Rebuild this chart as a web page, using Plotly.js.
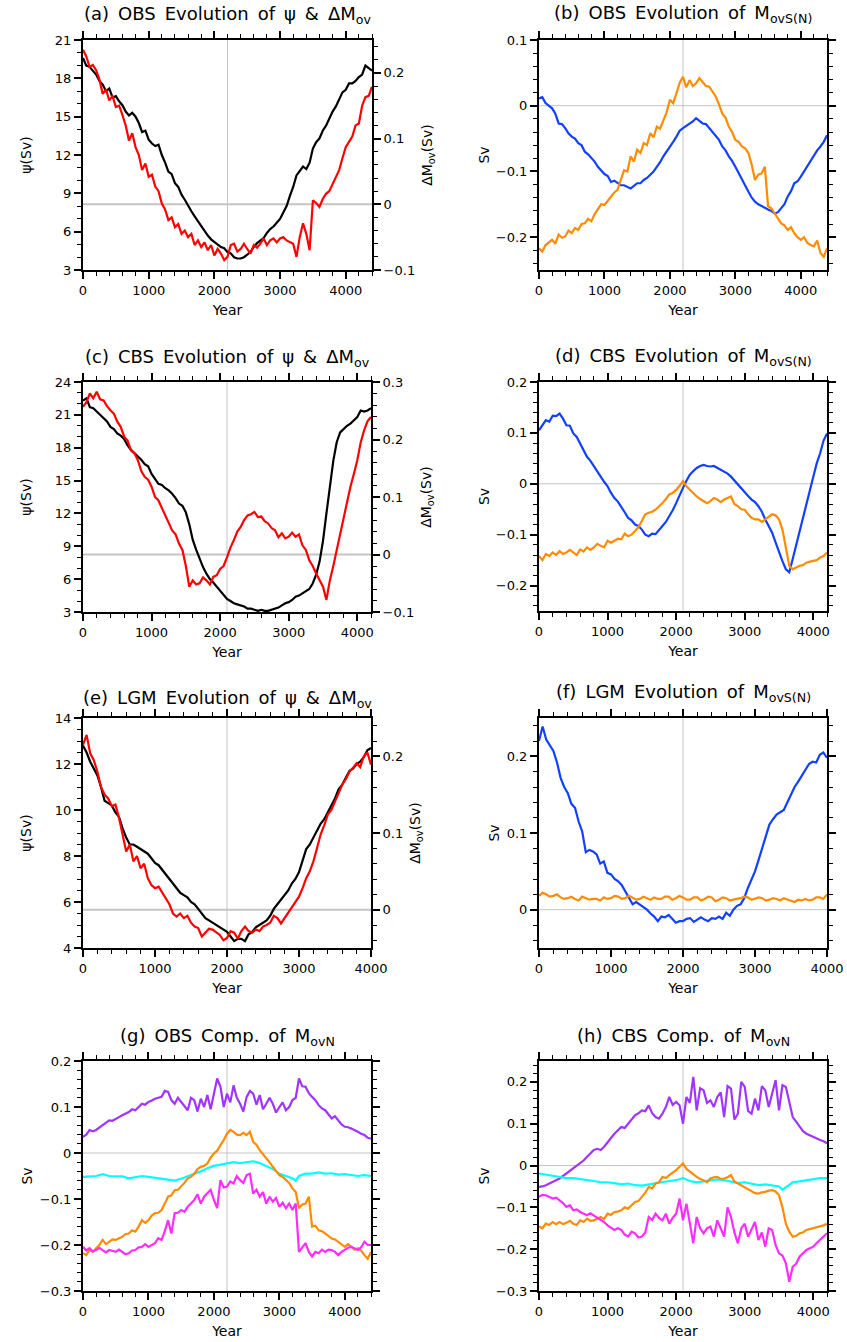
<!DOCTYPE html>
<html>
<head>
<meta charset="utf-8">
<script src="https://cdn.plot.ly/plotly-3.0.1.min.js"></script>
<style>html,body{margin:0;padding:0;background:#fff;}#chart{width:847px;height:1342px;}</style>
</head>
<body>
<div id="chart"></div>
<script>
// ---------- Year axes ----------
const years50_4400 = [0,50,100,150,200,250,300,350,400,450,500,550,600,650,700,750,800,850,900,950,1000,1050,1100,1150,1200,1250,1300,1350,1400,1450,1500,1550,1600,1650,1700,1750,1800,1850,1900,1950,2000,2050,2100,2150,2200,2250,2300,2350,2400,2450,2500,2550,2600,2650,2700,2750,2800,2850,2900,2950,3000,3050,3100,3150,3200,3250,3300,3350,3400,3450,3500,3550,3600,3650,3700,3750,3800,3850,3900,3950,4000,4050,4100,4150,4200,4250,4300,4350,4400];
const years50_4200 = [0,50,100,150,200,250,300,350,400,450,500,550,600,650,700,750,800,850,900,950,1000,1050,1100,1150,1200,1250,1300,1350,1400,1450,1500,1550,1600,1650,1700,1750,1800,1850,1900,1950,2000,2050,2100,2150,2200,2250,2300,2350,2400,2450,2500,2550,2600,2650,2700,2750,2800,2850,2900,2950,3000,3050,3100,3150,3200,3250,3300,3350,3400,3450,3500,3550,3600,3650,3700,3750,3800,3850,3900,3950,4000,4050,4100,4150,4200];
const years50_4000 = [0,50,100,150,200,250,300,350,400,450,500,550,600,650,700,750,800,850,900,950,1000,1050,1100,1150,1200,1250,1300,1350,1400,1450,1500,1550,1600,1650,1700,1750,1800,1850,1900,1950,2000,2050,2100,2150,2200,2250,2300,2350,2400,2450,2500,2550,2600,2650,2700,2750,2800,2850,2900,2950,3000,3050,3100,3150,3200,3250,3300,3350,3400,3450,3500,3550,3600,3650,3700,3750,3800,3850,3900,3950,4000];
const years100_4400 = [0,100,200,300,400,500,600,700,800,900,1000,1100,1200,1300,1400,1500,1600,1700,1800,1900,2000,2100,2200,2300,2400,2500,2600,2700,2800,2900,3000,3100,3200,3250,3300,3400,3500,3600,3700,3800,3900,4000,4100,4200,4300,4400];
const years100_4200 = [0,100,200,300,400,500,600,700,800,900,1000,1100,1200,1300,1400,1500,1600,1700,1800,1900,2000,2100,2200,2300,2400,2500,2600,2700,2800,2900,3000,3100,3200,3300,3400,3500,3550,3600,3700,3800,3900,4000,4100,4200];

// ---------- Panel (a) OBS ----------
const aPsi = [19.6,19.0,18.9,18.6,18.3,17.8,17.5,17.0,17.2,16.5,16.6,16.2,15.9,15.4,15.1,15.3,15.0,14.5,13.8,13.9,
              13.2,12.9,12.7,12.8,12.0,11.4,10.7,10.5,9.8,9.5,8.9,8.5,8.0,7.6,7.2,6.8,6.4,6.0,5.7,5.4,
              5.2,5.0,4.8,4.7,4.4,4.3,4.0,3.9,3.9,4.0,4.2,4.4,4.8,5.1,5.3,5.5,5.9,6.2,6.4,6.7,
              7.0,7.5,8.0,8.8,9.5,10.4,10.8,11.1,10.9,11.4,12.5,13.0,13.3,13.9,14.3,14.9,15.4,15.8,16.3,16.9,
              17.1,17.6,17.6,17.8,18.1,18.3,19.0,18.8,18.6];
const aDMov = [0.235,0.225,0.209,0.212,0.204,0.190,0.168,0.175,0.158,0.165,0.148,0.150,0.136,0.120,0.097,0.108,0.087,0.075,0.052,0.062,
               0.042,0.045,0.027,0.020,0.001,-0.008,-0.024,-0.020,-0.035,-0.030,-0.045,-0.040,-0.050,-0.045,-0.062,-0.055,-0.065,-0.058,-0.070,-0.062,
               -0.078,-0.068,-0.075,-0.085,-0.080,-0.062,-0.060,-0.072,-0.068,-0.060,-0.068,-0.075,-0.062,-0.066,-0.060,-0.052,-0.062,-0.055,-0.052,-0.058,
               -0.052,-0.050,-0.055,-0.058,-0.060,-0.080,-0.050,-0.029,-0.045,-0.070,0.006,0.002,-0.004,0.008,0.016,0.020,0.031,0.040,0.052,0.070,
               0.087,0.095,0.103,0.120,0.123,0.150,0.163,0.165,0.179];

// ---------- Panel (b) OBS ----------
const bMovS = [0.011,0.013,0.004,0.000,-0.004,-0.012,-0.027,-0.028,-0.034,-0.042,-0.047,-0.050,-0.057,-0.060,-0.070,-0.074,-0.080,-0.085,-0.093,-0.098,
               -0.104,-0.107,-0.116,-0.114,-0.118,-0.121,-0.121,-0.123,-0.126,-0.122,-0.118,-0.118,-0.113,-0.110,-0.105,-0.100,-0.093,-0.086,-0.077,-0.070,
               -0.062,-0.055,-0.047,-0.038,-0.034,-0.031,-0.027,-0.024,-0.019,-0.023,-0.027,-0.028,-0.034,-0.040,-0.047,-0.052,-0.062,-0.068,-0.077,-0.084,
               -0.093,-0.103,-0.113,-0.122,-0.131,-0.140,-0.146,-0.150,-0.153,-0.155,-0.158,-0.160,-0.164,-0.162,-0.156,-0.150,-0.138,-0.130,-0.118,-0.115,
               -0.108,-0.100,-0.093,-0.083,-0.077,-0.068,-0.062,-0.055,-0.045];
const bMovN = [-0.217,-0.222,-0.212,-0.208,-0.204,-0.210,-0.196,-0.201,-0.199,-0.190,-0.194,-0.186,-0.189,-0.180,-0.179,-0.172,-0.176,-0.165,-0.158,-0.150,
               -0.151,-0.145,-0.138,-0.132,-0.128,-0.112,-0.098,-0.100,-0.077,-0.085,-0.067,-0.072,-0.057,-0.060,-0.042,-0.048,-0.032,-0.035,-0.022,-0.010,
               0.009,0.004,0.019,0.035,0.044,0.028,0.039,0.030,0.034,0.042,0.036,0.030,0.029,0.022,0.014,0.002,-0.012,-0.018,-0.032,-0.040,
               -0.052,-0.055,-0.062,-0.065,-0.072,-0.090,-0.113,-0.105,-0.103,-0.093,-0.153,-0.156,-0.164,-0.170,-0.179,-0.182,-0.189,-0.185,-0.194,-0.200,
               -0.204,-0.200,-0.209,-0.212,-0.214,-0.205,-0.224,-0.230,-0.217];

// ---------- Panel (c) CBS ----------
const cPsi = [22.3,22.5,21.7,21.6,21.3,21.0,20.7,20.4,19.9,19.7,19.3,19.1,18.8,18.2,17.8,17.5,17.2,16.9,16.5,16.3,
              15.6,15.2,14.7,14.6,14.3,14.1,13.8,13.4,12.9,12.7,12.1,11.0,9.6,8.7,7.8,7.1,6.5,6.0,5.7,5.3,
              5.0,4.6,4.2,4.0,3.8,3.7,3.6,3.5,3.3,3.3,3.2,3.1,3.2,3.1,3.1,3.2,3.3,3.4,3.6,3.8,
              3.9,4.1,4.4,4.5,4.7,4.9,5.1,5.6,6.4,7.6,9.5,12.0,14.6,16.8,18.5,19.4,19.7,20.0,20.2,20.5,
              20.8,21.4,21.3,21.4,21.6];
const cDMov = [0.257,0.265,0.280,0.272,0.283,0.270,0.268,0.258,0.251,0.245,0.231,0.222,0.205,0.198,0.181,0.176,0.164,0.145,0.135,0.130,
               0.118,0.100,0.094,0.080,0.066,0.055,0.042,0.035,0.019,0.008,-0.020,-0.056,-0.045,-0.052,-0.050,-0.040,-0.045,-0.052,-0.039,-0.036,
               -0.025,-0.020,-0.005,0.012,0.025,0.040,0.048,0.060,0.068,0.070,0.074,0.065,0.066,0.058,0.054,0.046,0.042,0.030,0.037,0.028,
               0.031,0.038,0.031,0.035,0.016,0.008,-0.010,-0.020,-0.033,-0.045,-0.056,-0.079,-0.045,-0.020,0.008,0.030,0.060,0.090,0.118,0.140,
               0.164,0.195,0.216,0.232,0.239];

// ---------- Panel (d) CBS ----------
const dMovS = [0.105,0.115,0.125,0.122,0.134,0.133,0.138,0.128,0.115,0.114,0.099,0.092,0.079,0.066,0.053,0.045,0.034,0.024,0.014,0.004,
               -0.005,-0.018,-0.028,-0.035,-0.047,-0.056,-0.067,-0.072,-0.080,-0.083,-0.090,-0.100,-0.103,-0.098,-0.099,-0.092,-0.083,-0.075,-0.064,-0.052,
               -0.038,-0.022,-0.008,0.006,0.018,0.025,0.031,0.035,0.037,0.035,0.034,0.035,0.031,0.028,0.024,0.020,0.014,0.006,-0.002,-0.010,
               -0.018,-0.024,-0.031,-0.036,-0.044,-0.055,-0.070,-0.082,-0.096,-0.115,-0.135,-0.152,-0.168,-0.174,-0.148,-0.120,-0.092,-0.066,-0.041,-0.012,
               0.014,0.040,0.060,0.085,0.099];
const dMovN = [-0.142,-0.150,-0.138,-0.142,-0.135,-0.140,-0.132,-0.138,-0.135,-0.130,-0.135,-0.140,-0.129,-0.133,-0.125,-0.130,-0.125,-0.118,-0.122,-0.125,
               -0.112,-0.116,-0.112,-0.108,-0.109,-0.098,-0.103,-0.100,-0.093,-0.085,-0.073,-0.060,-0.057,-0.055,-0.051,-0.045,-0.038,-0.030,-0.021,-0.018,
               -0.012,-0.004,0.005,-0.005,-0.012,-0.020,-0.025,-0.030,-0.034,-0.038,-0.034,-0.028,-0.031,-0.036,-0.031,-0.028,-0.025,-0.040,-0.044,-0.050,
               -0.051,-0.060,-0.067,-0.070,-0.070,-0.075,-0.070,-0.066,-0.060,-0.062,-0.070,-0.090,-0.122,-0.161,-0.168,-0.165,-0.161,-0.160,-0.155,-0.153,
               -0.151,-0.150,-0.145,-0.142,-0.135];

// ---------- Panel (e) LGM ----------
const ePsi = [12.8,12.5,12.1,11.8,11.5,11.0,10.4,10.3,10.2,9.9,9.7,9.2,8.8,8.5,8.5,8.4,8.3,8.2,8.1,7.9,
              7.7,7.6,7.4,7.2,7.0,6.8,6.6,6.4,6.3,6.2,6.0,5.9,5.7,5.5,5.3,5.2,5.1,5.0,4.9,4.8,
              4.7,4.5,4.3,4.4,4.4,4.3,4.6,4.7,4.9,5.0,5.1,5.2,5.4,5.7,5.9,6.1,6.3,6.5,6.8,7.0,
              7.3,7.8,8.3,8.5,8.8,9.1,9.4,9.6,9.9,10.2,10.5,10.9,11.1,11.4,11.7,11.8,12.0,12.1,12.3,12.6,
              12.7];
const eDMov = [0.215,0.228,0.204,0.195,0.180,0.160,0.150,0.145,0.135,0.137,0.120,0.100,0.076,0.085,0.063,0.070,0.054,0.060,0.041,0.032,
               0.028,0.030,0.022,0.015,0.007,-0.005,-0.009,-0.005,-0.011,-0.008,-0.017,-0.022,-0.024,-0.035,-0.030,-0.025,-0.026,-0.030,-0.033,-0.040,
               -0.037,-0.028,-0.030,-0.038,-0.028,-0.022,-0.028,-0.030,-0.026,-0.028,-0.022,-0.020,-0.017,-0.008,-0.011,-0.018,-0.011,-0.005,0.002,0.010,
               0.017,0.028,0.041,0.050,0.063,0.080,0.098,0.110,0.124,0.130,0.141,0.152,0.163,0.170,0.180,0.185,0.191,0.186,0.200,0.205,
               0.189];

// ---------- Panel (f) LGM ----------
const fMovS = [0.220,0.239,0.222,0.215,0.207,0.192,0.172,0.160,0.152,0.138,0.133,0.115,0.102,0.075,0.078,0.076,0.072,0.060,0.063,0.048,
               0.046,0.040,0.037,0.032,0.024,0.015,0.007,0.010,0.007,0.004,0.000,-0.005,-0.009,-0.015,-0.009,-0.010,-0.007,-0.012,-0.017,-0.015,
               -0.015,-0.012,-0.011,-0.016,-0.013,-0.010,-0.013,-0.015,-0.011,-0.012,-0.009,-0.012,-0.004,-0.008,0.000,0.005,0.007,0.015,0.028,0.038,
               0.050,0.065,0.080,0.095,0.111,0.118,0.124,0.127,0.130,0.140,0.150,0.160,0.167,0.175,0.183,0.190,0.193,0.192,0.202,0.205,
               0.198];
const fMovN = [0.018,0.022,0.020,0.017,0.018,0.020,0.016,0.014,0.015,0.017,0.014,0.012,0.017,0.015,0.013,0.014,0.014,0.012,0.016,0.014,
               0.015,0.018,0.017,0.014,0.015,0.018,0.016,0.013,0.014,0.017,0.015,0.013,0.016,0.014,0.014,0.017,0.017,0.013,0.015,0.018,
               0.016,0.013,0.013,0.016,0.016,0.012,0.014,0.017,0.016,0.011,0.013,0.016,0.015,0.012,0.013,0.014,0.015,0.017,0.016,0.013,
               0.014,0.016,0.015,0.012,0.013,0.015,0.014,0.012,0.015,0.013,0.011,0.010,0.013,0.012,0.014,0.012,0.013,0.016,0.016,0.014,
               0.020];

// ---------- Panel (g) OBS components ----------
const gPurple = [0.035,0.040,0.050,0.047,0.050,0.055,0.060,0.066,0.071,0.070,0.075,0.078,0.082,0.085,0.089,0.095,0.093,0.100,0.107,0.105,
                 0.111,0.114,0.118,0.120,0.122,0.135,0.133,0.115,0.107,0.120,0.111,0.100,0.093,0.120,0.115,0.090,0.118,0.100,0.126,0.095,
                 0.129,0.162,0.144,0.100,0.129,0.110,0.147,0.120,0.107,0.090,0.122,0.135,0.129,0.105,0.126,0.095,0.107,0.120,0.107,0.088,
                 0.100,0.110,0.093,0.100,0.115,0.120,0.162,0.145,0.144,0.130,0.122,0.115,0.104,0.097,0.093,0.085,0.075,0.080,0.071,0.062,
                 0.057,0.056,0.053,0.050,0.046,0.042,0.039,0.033,0.031];
const gCyan = [-0.052,-0.051,-0.050,-0.046,-0.050,-0.051,-0.051,-0.055,-0.053,-0.050,-0.052,-0.054,-0.055,-0.058,-0.060,-0.056,-0.050,-0.045,-0.040,-0.033,-0.028,-0.025,-0.022,-0.020,-0.022,-0.020,-0.018,-0.022,-0.028,-0.035,-0.045,-0.050,-0.055,-0.060,-0.050,-0.045,-0.045,-0.042,-0.045,-0.044,-0.047,-0.046,-0.048,-0.050,-0.048,-0.050];
const gOrange = [-0.218,-0.222,-0.211,-0.215,-0.207,-0.200,-0.189,-0.198,-0.193,-0.188,-0.189,-0.185,-0.182,-0.176,-0.175,-0.168,-0.171,-0.160,-0.146,-0.152,
                 -0.146,-0.136,-0.131,-0.130,-0.124,-0.110,-0.095,-0.092,-0.081,-0.080,-0.073,-0.065,-0.055,-0.052,-0.045,-0.035,-0.030,-0.028,-0.023,-0.010,
                 -0.001,0.005,0.017,0.028,0.042,0.050,0.046,0.040,0.039,0.044,0.039,0.046,0.024,0.018,0.006,-0.002,-0.012,-0.020,-0.030,-0.040,
                 -0.048,-0.052,-0.059,-0.065,-0.077,-0.085,-0.120,-0.112,-0.110,-0.095,-0.160,-0.158,-0.168,-0.170,-0.175,-0.180,-0.186,-0.188,-0.193,-0.200,
                 -0.204,-0.198,-0.204,-0.210,-0.207,-0.212,-0.222,-0.230,-0.215];
const gMagenta = [-0.204,-0.212,-0.207,-0.214,-0.211,-0.206,-0.211,-0.216,-0.211,-0.213,-0.215,-0.210,-0.215,-0.220,-0.218,-0.212,-0.211,-0.205,-0.204,-0.198,
                  -0.204,-0.200,-0.196,-0.185,-0.189,-0.170,-0.146,-0.175,-0.131,-0.130,-0.124,-0.128,-0.117,-0.110,-0.102,-0.090,-0.110,-0.095,-0.088,-0.080,
                  -0.102,-0.120,-0.059,-0.075,-0.073,-0.062,-0.066,-0.050,-0.059,-0.065,-0.048,-0.045,-0.088,-0.080,-0.095,-0.085,-0.110,-0.095,-0.106,-0.098,
                  -0.117,-0.108,-0.120,-0.110,-0.124,-0.110,-0.215,-0.205,-0.196,-0.215,-0.225,-0.215,-0.218,-0.210,-0.215,-0.210,-0.211,-0.215,-0.222,-0.215,
                  -0.211,-0.206,-0.204,-0.208,-0.211,-0.205,-0.193,-0.200,-0.200];

// ---------- Panel (h) CBS components ----------
const hPurple = [-0.051,-0.050,-0.047,-0.043,-0.039,-0.036,-0.031,-0.025,-0.019,-0.012,-0.007,0.000,0.005,0.012,0.021,0.030,0.037,0.040,0.037,0.045,
                 0.057,0.066,0.076,0.083,0.092,0.090,0.100,0.110,0.120,0.125,0.132,0.130,0.144,0.125,0.116,0.112,0.124,0.140,0.164,0.145,
                 0.152,0.144,0.100,0.164,0.150,0.212,0.132,0.185,0.180,0.150,0.156,0.140,0.164,0.175,0.116,0.190,0.184,0.110,0.124,0.200,
                 0.188,0.130,0.124,0.160,0.132,0.190,0.180,0.140,0.172,0.204,0.132,0.192,0.188,0.150,0.116,0.105,0.092,0.082,0.076,0.072,
                 0.068,0.064,0.061,0.058,0.053];
const hCyan = [-0.019,-0.022,-0.025,-0.028,-0.030,-0.030,-0.032,-0.035,-0.037,-0.040,-0.040,-0.042,-0.045,-0.043,-0.047,-0.048,-0.045,-0.042,-0.040,-0.037,-0.035,-0.030,-0.037,-0.040,-0.038,-0.035,-0.033,-0.035,-0.038,-0.042,-0.040,-0.043,-0.047,-0.045,-0.048,-0.050,-0.058,-0.052,-0.040,-0.038,-0.035,-0.033,-0.030,-0.030];
const hOrange = [-0.146,-0.150,-0.139,-0.142,-0.135,-0.140,-0.135,-0.140,-0.137,-0.132,-0.139,-0.142,-0.131,-0.135,-0.127,-0.132,-0.131,-0.126,-0.123,-0.128,
                 -0.115,-0.118,-0.111,-0.110,-0.107,-0.100,-0.103,-0.095,-0.087,-0.085,-0.075,-0.065,-0.051,-0.055,-0.043,-0.040,-0.027,-0.030,-0.023,-0.018,
                 -0.011,-0.003,0.005,-0.008,-0.015,-0.022,-0.027,-0.032,-0.035,-0.040,-0.031,-0.028,-0.027,-0.032,-0.031,-0.028,-0.023,-0.038,-0.043,-0.048,
                 -0.051,-0.058,-0.063,-0.066,-0.067,-0.064,-0.063,-0.060,-0.059,-0.062,-0.071,-0.100,-0.139,-0.158,-0.170,-0.168,-0.162,-0.160,-0.154,-0.152,
                 -0.150,-0.148,-0.146,-0.143,-0.139];
const hMagenta = [-0.075,-0.070,-0.071,-0.075,-0.079,-0.077,-0.083,-0.090,-0.099,-0.095,-0.107,-0.105,-0.111,-0.115,-0.119,-0.114,-0.119,-0.125,-0.131,-0.135,
                  -0.143,-0.148,-0.154,-0.150,-0.154,-0.165,-0.170,-0.158,-0.162,-0.172,-0.170,-0.160,-0.123,-0.130,-0.115,-0.125,-0.131,-0.115,-0.139,-0.125,
                  -0.115,-0.079,-0.131,-0.091,-0.139,-0.186,-0.123,-0.150,-0.162,-0.150,-0.146,-0.170,-0.131,-0.150,-0.170,-0.100,-0.123,-0.160,-0.186,-0.150,
                  -0.139,-0.170,-0.154,-0.135,-0.178,-0.160,-0.194,-0.150,-0.154,-0.190,-0.210,-0.215,-0.234,-0.278,-0.242,-0.235,-0.218,-0.210,-0.202,-0.198,
                  -0.194,-0.185,-0.178,-0.170,-0.162];

// ---------- Text ----------
const SP = '\u2002';
const panelTitles = [
  '(a)' + SP + 'OBS' + SP + 'Evolution' + SP + 'of' + SP + '\u03c8' + SP + '&' + SP + '\u0394M<sub>ov</sub>',
  '(b)' + SP + 'OBS' + SP + 'Evolution' + SP + 'of' + SP + 'M<sub>ovS(N)</sub>',
  '(c)' + SP + 'CBS' + SP + 'Evolution' + SP + 'of' + SP + '\u03c8' + SP + '&' + SP + '\u0394M<sub>ov</sub>',
  '(d)' + SP + 'CBS' + SP + 'Evolution' + SP + 'of' + SP + 'M<sub>ovS(N)</sub>',
  '(e)' + SP + 'LGM' + SP + 'Evolution' + SP + 'of' + SP + '\u03c8' + SP + '&' + SP + '\u0394M<sub>ov</sub>',
  '(f)' + SP + 'LGM' + SP + 'Evolution' + SP + 'of' + SP + 'M<sub>ovS(N)</sub>',
  '(g)' + SP + 'OBS' + SP + 'Comp.' + SP + 'of' + SP + 'M<sub>ovN</sub>',
  '(h)' + SP + 'CBS' + SP + 'Comp.' + SP + 'of' + SP + 'M<sub>ovN</sub>'
];
const psiLabel = '\u03c8(Sv)';
const dmovLabel = '\u0394M<sub>ov</sub>(Sv)';
const svLabel = 'Sv';
const yearLabel = 'Year';

// ---------- Colours ----------
const C = {black:'#000000', red:'#ff0000', blue:'#1240ff', orange:'#ff8c00', purple:'#a035ff', cyan:'#00ffff', magenta:'#ff2cff', grid:'#c4c4c4'};

// ---------- Layout geometry (pixels) ----------
const W = 847, H = 1342;
const boxes = [
  [83,372,40,270],[539,827,40,270],
  [83,371,382,612],[539,827,382,611],
  [83,371,718,948],[539,827,718,948],
  [83,371,1061,1291],[539,827,1061,1291]
];
const fx = p => p / W;
const fy = p => 1 - p / H;

const FONT = 'DejaVu Sans, Liberation Sans, Arial, sans-serif';

function xAxis(i, maxYear, anchor) {
  const b = boxes[i];
  return {
    domain:[fx(b[0]), fx(b[1])], anchor: anchor, range:[0, maxYear],
    tick0:0, dtick:1000, ticks:'outside', ticklen:7, tickwidth:2, tickcolor:'#000',
    showline:true, linewidth:2, linecolor:'#000', mirror:'ticks',
    showgrid:false, zeroline:false,
    minor:{ticks:'outside', ticklen:4, tickwidth:1, tickcolor:'#000', dtick:200, tick0:0, showgrid:false},
    tickfont:{size:13, family:FONT}, tickangle:0,
    title:{text:yearLabel, font:{size:14, family:FONT}, standoff:9}
  };
}
function yAxis(i, range, dtick, minorDtick, titleText, anchor, mirror, tick0, standoff) {
  const b = boxes[i];
  return {
    domain:[fy(b[3]), fy(b[2])], anchor: anchor, range: range,
    tick0: (tick0 === undefined ? 0 : tick0), dtick: dtick,
    ticks:'outside', ticklen:7, tickwidth:2, tickcolor:'#000',
    showline:true, linewidth:2, linecolor:'#000', mirror: mirror ? 'ticks' : false,
    showgrid:false, zeroline:false,
    minor:{ticks:'outside', ticklen:4, tickwidth:1, tickcolor:'#000', dtick:minorDtick, tick0:0, showgrid:false},
    tickfont:{size:13, family:FONT},
    title:{text:titleText, font:{size:14, family:FONT}, standoff:(standoff === undefined ? 4 : standoff)}
  };
}
function y2Axis(i, range, dtick, minorDtick, overlay, anchor) {
  const a = yAxis(i, range, dtick, minorDtick, dmovLabel, anchor, false, 0, 8);
  a.overlaying = overlay; a.side = 'right';
  return a;
}

const layout = {
  width: W, height: H,
  margin:{l:0, r:0, t:0, b:0, pad:0},
  paper_bgcolor:'#fff', plot_bgcolor:'#fff',
  font:{family:FONT, color:'#000', size:13},
  showlegend:false,
  xaxis: xAxis(0, 4400, 'y'),
  yaxis: yAxis(0, [3,21], 3, 1, psiLabel, 'x', false, 3, 20),
  yaxis2: y2Axis(0, [-0.1,0.25], 0.1, 0.02, 'y', 'x'),
  xaxis2: xAxis(1, 4400, 'y3'),
  yaxis3: yAxis(1, [-0.25,0.1], 0.1, 0.02, svLabel, 'x2', true, 0, 3),
  xaxis3: xAxis(2, 4200, 'y4'),
  yaxis4: yAxis(2, [3,24], 3, 1, psiLabel, 'x3', false, 3, 20),
  yaxis5: y2Axis(2, [-0.1,0.3], 0.1, 0.02, 'y4', 'x3'),
  xaxis4: xAxis(3, 4200, 'y6'),
  yaxis6: yAxis(3, [-0.25,0.2], 0.1, 0.02, svLabel, 'x4', true, 0, 3),
  xaxis5: xAxis(4, 4000, 'y7'),
  yaxis7: yAxis(4, [4,14], 2, 0.5, psiLabel, 'x5', false, 4, 20),
  yaxis8: y2Axis(4, [-0.05,0.25], 0.1, 0.02, 'y7', 'x5'),
  xaxis6: xAxis(5, 4000, 'y9'),
  yaxis9: yAxis(5, [-0.05,0.25], 0.1, 0.02, svLabel, 'x6', true, 0, 4),
  xaxis7: xAxis(6, 4400, 'y10'),
  yaxis10: yAxis(6, [-0.3,0.2], 0.1, 0.02, svLabel, 'x7', true, 0, 4),
  xaxis8: xAxis(7, 4200, 'y11'),
  yaxis11: yAxis(7, [-0.3,0.25], 0.1, 0.02, svLabel, 'x8', true, 0, 3),
  shapes: [],
  annotations: []
};

// reference lines: vertical at mid-year, horizontal at zero
const refs = [
  {x:'x',  y:'y2',  mid:2200, w:2},
  {x:'x2', y:'y3',  mid:2200, w:1},
  {x:'x3', y:'y5',  mid:2100, w:2},
  {x:'x4', y:'y6',  mid:2100, w:1},
  {x:'x5', y:'y8',  mid:2000, w:2},
  {x:'x6', y:'y9',  mid:2000, w:1},
  {x:'x7', y:'y10', mid:2200, w:1},
  {x:'x8', y:'y11', mid:2100, w:1}
];
const mainY = ['y','y3','y4','y6','y7','y9','y10','y11'];
refs.forEach((r, i) => {
  layout.shapes.push({type:'line', layer:'below', xref:r.x, yref: mainY[i] + ' domain', x0:r.mid, x1:r.mid, y0:0, y1:1, line:{color:C.grid, width:1}});
  layout.shapes.push({type:'line', layer:'below', xref:r.x + ' domain', yref:r.y, x0:0, x1:1, y0:0, y1:0, line:{color:C.grid, width:r.w}});
});

// panel titles
const titleY = [15, 14, 358, 357, 699, 693, 1037, 1037];
boxes.forEach((b, i) => {
  layout.annotations.push({
    text: panelTitles[i], xref:'paper', yref:'paper',
    x: fx((b[0] + b[1]) / 2), y: fy(titleY[i]), xanchor:'center', yanchor:'middle',
    showarrow:false, font:{size:18, family:FONT, color:'#000'}
  });
});

function line(x, y, xa, ya, color) {
  return {type:'scatter', mode:'lines', x:x, y:y, xaxis:xa, yaxis:ya, line:{color:color, width:2.2}, hoverinfo:'skip'};
}

const data = [
  line(years50_4400, aPsi, 'x', 'y', C.black),
  line(years50_4400, aDMov, 'x', 'y2', C.red),
  line(years50_4400, bMovS, 'x2', 'y3', C.blue),
  line(years50_4400, bMovN, 'x2', 'y3', C.orange),
  line(years50_4200, cPsi, 'x3', 'y4', C.black),
  line(years50_4200, cDMov, 'x3', 'y5', C.red),
  line(years50_4200, dMovS, 'x4', 'y6', C.blue),
  line(years50_4200, dMovN, 'x4', 'y6', C.orange),
  line(years50_4000, ePsi, 'x5', 'y7', C.black),
  line(years50_4000, eDMov, 'x5', 'y8', C.red),
  line(years50_4000, fMovS, 'x6', 'y9', C.blue),
  line(years50_4000, fMovN, 'x6', 'y9', C.orange),
  line(years50_4400, gPurple, 'x7', 'y10', C.purple),
  line(years100_4400, gCyan, 'x7', 'y10', C.cyan),
  line(years50_4400, gOrange, 'x7', 'y10', C.orange),
  line(years50_4400, gMagenta, 'x7', 'y10', C.magenta),
  line(years50_4200, hPurple, 'x8', 'y11', C.purple),
  line(years100_4200, hCyan, 'x8', 'y11', C.cyan),
  line(years50_4200, hOrange, 'x8', 'y11', C.orange),
  line(years50_4200, hMagenta, 'x8', 'y11', C.magenta)
];

Plotly.newPlot('chart', data, layout, {staticPlot:true, displayModeBar:false});
</script>
</body>
</html>
